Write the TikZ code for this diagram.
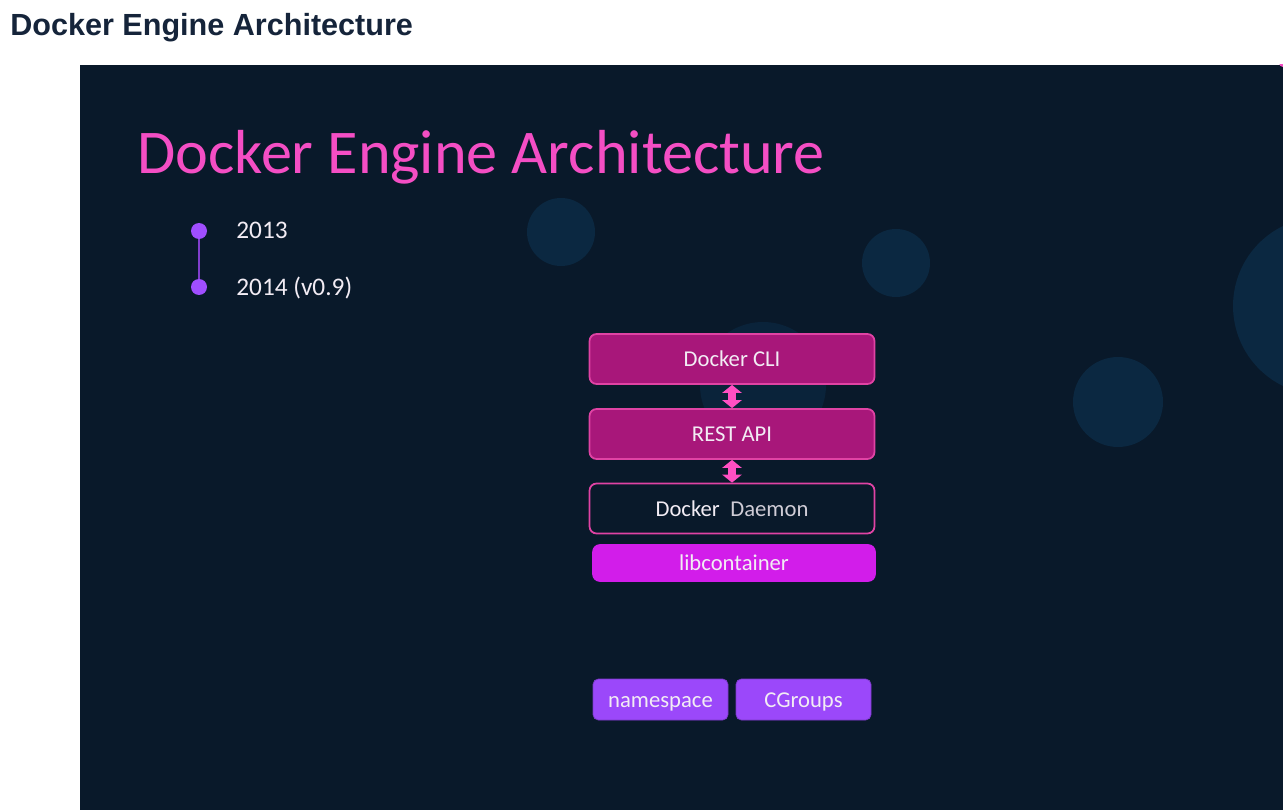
\documentclass[tikz,border=0pt]{standalone}
\usepackage{fontspec}
\setmainfont{Carlito}
\newfontfamily\headfont{Liberation Sans}
\usetikzlibrary{arrows.meta}
\definecolor{slidebg}{HTML}{09192A}
\definecolor{bubble}{HTML}{0B2841}
\definecolor{titlepink}{HTML}{F44EC4}
\definecolor{headnavy}{HTML}{15243A}
\definecolor{layerfill}{HTML}{A8177A}
\definecolor{layeredge}{HTML}{E043A4}
\definecolor{arrowpink}{HTML}{FF4FC2}
\definecolor{libfill}{HTML}{D21DEA}
\definecolor{kernfill}{HTML}{9B48FA}
\definecolor{dotpurple}{HTML}{A04EFF}
\definecolor{softwhite}{HTML}{F2ECF4}
\tikzset{
  layer/.style={draw=layeredge, line width=1pt, rounded corners=4pt, minimum width=5.7cm,
    minimum height=1cm, inner sep=0pt, text height=0.9em, text depth=0pt,
    text=softwhite, font=\fontsize{12.9}{14}\selectfont},
  kernbox/.style={draw=kernfill!80!black, fill=kernfill, rounded corners=3pt, minimum width=2.7cm,
    minimum height=0.82cm, inner sep=0pt, text height=0.9em, text depth=0pt,
    text=softwhite, font=\fontsize{12.9}{14}\selectfont},
  apiarrow/.style={arrowpink, line width=4.3pt,
    {Triangle[width=11pt,length=4.6pt]}-{Triangle[width=11pt,length=4.6pt]}},
  yeardot/.style={circle, fill=dotpurple, minimum size=0.32cm, inner sep=0pt},
  yeartext/.style={anchor=base west, inner sep=0pt, text=softwhite, font=\fontsize{14.4}{16}\selectfont}
}
\begin{document}
\begin{tikzpicture}[x=0.02cm, y=-0.02cm]
			%%%%% START %%%%%
			\useasboundingbox[fill=white] (0, 0) rectangle (1283, 810);
			
			\node[anchor=base west, inner sep=0pt, text=headnavy, font=\headfont\bfseries\fontsize{17.4}{20}\selectfont] (header) at (10, 36) {Docker Engine Architecture};
			
			\fill[slidebg] (80, 65) rectangle (1283, 810);
			\begin{scope}
				\clip (80, 65) rectangle (1283, 810);
				\fill[bubble] (561, 232) circle (34);
				\fill[bubble] (896, 263) circle (34);
				\fill[bubble] (1118, 402) circle (45);
				\fill[bubble] (1322, 306) circle (89);
				\fill[bubble!70!slidebg] (763, 385) circle (63);
				\fill[titlepink] (1283, 63) circle (4);
			\end{scope}
			
			\node[anchor=base west, inner sep=0pt, text=titlepink, font=\fontsize{35.4}{40}\selectfont] (title) at (137, 174) {Docker Engine Architecture};
			
			\node[yeardot] (d13) at (199, 231) {};
			\node[yeardot] (d14) at (199, 287) {};
			\draw[dotpurple!80!black, line width=0.7pt] (d13) -- (d14);
			\node[yeartext] (y13) at (236, 239) {2013};
			\node[yeartext] (y14) at (236, 296) {2014 (v0.9)};
			
			\node[layer, fill=layerfill] (cli) at (732, 359) {Docker CLI};
			\node[layer, fill=layerfill] (rest) at (732, 434) {REST API};
			\node[layer, fill=slidebg] (daemon) at (732, 508.5) {Docker\hspace{6pt}{\color{softwhite!85!slidebg}Daemon}};
			\node[layer, fill=libfill, draw=libfill, minimum width=5.64cm, minimum height=0.72cm] (lib) at (734, 563) {libcontainer};
			
			\draw[apiarrow] (cli.south) -- (rest.north);
			\draw[apiarrow] (rest.south) -- (daemon.north);
			
			\node[kernbox] (ns) at (660.5, 699.5) {namespace};
			\node[kernbox] (cg) at (803.5, 699.5) {CGroups};
			
			%%%%% END %%%%%
\end{tikzpicture}
\end{document}
